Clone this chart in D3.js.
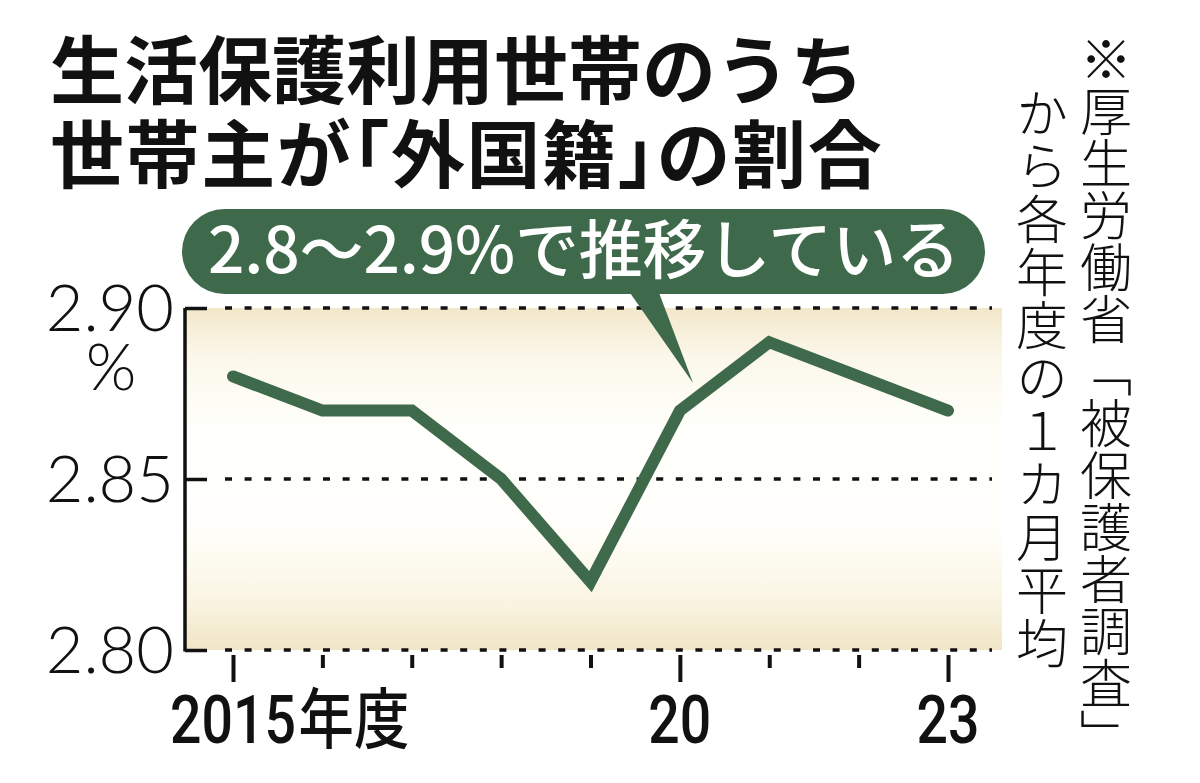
<!DOCTYPE html>
<html><head><meta charset="utf-8">
<script src="https://cdn.jsdelivr.net/npm/d3@7"></script>
<style>
html,body{margin:0;padding:0;background:#fff;}
svg{display:block;}
</style></head>
<body>
<svg id="chart" width="1200" height="783"></svg>
<script>
// ---- data ----
const years = [2015, 2016, 2017, 2018, 2019, 2020, 2021, 2022, 2023];
const shares = [2.88, 2.87, 2.87, 2.85, 2.82, 2.87, 2.89, 2.88, 2.87];
const yTicks = [2.80, 2.85, 2.90];
const yTickLabels = ["2.80", "2.85", "2.90"];
const majorYears = [2015, 2020, 2023];
const xTickLabels = ["2015", "20", "23"];
const titleLines = ["生活保護利用世帯のうち", "世帯主が「外国籍」の割合"];
const calloutText = "2.8〜2.9%で推移している";
const noteRight = "※厚生労働省「被保護者調査」";
const noteLeft = "から各年度の１カ月平均";

const GREEN = "#3e6a4b";
const svg = d3.select("#chart");
svg.append("rect").attr("width",1200).attr("height",783).attr("fill","#fff");

const x = d3.scaleLinear().domain([2015, 2023]).range([233, 948]);
const y = d3.scaleLinear().domain([2.80, 2.90]).range([650, 308]);

// gradient background
const defs = svg.append("defs");
const grad = defs.append("linearGradient").attr("id","bg").attr("x1",0).attr("y1",0).attr("x2",0).attr("y2",1);
[[0,"#f2e7c9"],[0.14,"#fbf7ea"],[0.35,"#fffffb"],[0.65,"#fffefa"],[0.85,"#faf5e3"],[1,"#f0e5c5"]]
  .forEach(([o,c])=>grad.append("stop").attr("offset",o).attr("stop-color",c));
svg.append("rect").attr("x",186).attr("y",y(2.90)).attr("width",1002-186).attr("height",y(2.80)-y(2.90)).attr("fill","url(#bg)");

// gridlines (dotted)
svg.append("g").selectAll("line").data(yTicks).join("line")
  .attr("x1",225).attr("x2",992).attr("y1",d=>y(d)).attr("y2",d=>y(d))
  .attr("stroke","#111").attr("stroke-width",3.5).attr("stroke-dasharray","7,12.6");

// y axis via d3
const yAxis = d3.axisRight(y).tickValues(yTicks).tickSize(22).tickFormat("");
const gy = svg.append("g").attr("transform","translate(185,0)").call(yAxis);
gy.select(".domain").attr("stroke","#111").attr("stroke-width",3.5).attr("d",`M0,${y(2.90)}V${y(2.80)+1.5}`);
gy.selectAll(".tick line").attr("stroke","#111").attr("stroke-width",3.5);

// y tick labels
const thinFont = "Lato, 'Noto Sans CJK JP', sans-serif";
svg.append("g").selectAll("text").data(yTicks).join("text")
  .attr("x",174).attr("y",d=>y(d)+23).attr("text-anchor","end")
  .attr("font-family",thinFont).attr("font-weight",300).attr("font-size",65).attr("fill","#111")
  .text((d,i)=>yTickLabels[i]);
svg.append("text").attr("x",111).attr("y",390).attr("text-anchor","middle")
  .attr("font-family",thinFont).attr("font-weight",300).attr("font-size",65).attr("fill","#111").text("%");

// x ticks via d3
const xAxis = d3.axisBottom(x).tickValues(years).tickSize(0).tickFormat("");
const gx = svg.append("g").attr("transform",`translate(0,${y(2.80)})`).call(xAxis);
gx.select(".domain").remove();
gx.selectAll(".tick line").attr("stroke","#111").attr("stroke-width",4)
  .attr("y1",5).attr("y2",d=>majorYears.includes(d)?32:18);

// x labels
majorYears.forEach((yr,i)=>{
  const g = svg.append("g").attr("transform",`translate(${x(yr)},743) scale(0.84,1)`);
  const t = g.append("text").attr("font-family","Roboto, 'Noto Sans CJK JP', sans-serif").attr("font-weight",500)
    .attr("font-size",66).attr("fill","#111");
  t.append("tspan").text(xTickLabels[i]);
  if (i===0) t.append("tspan").attr("font-family","'Noto Sans CJK JP'").attr("dx",3).text("年度");
  const w = t.node().getSubStringLength(0, xTickLabels[i].length);
  t.attr("x",-w/2);
});

// line
const line = d3.line().x((d,i)=>x(years[i])).y(d=>y(d));
svg.append("path").datum(shares).attr("d",line).attr("fill","none")
  .attr("stroke",GREEN).attr("stroke-width",12).attr("stroke-linecap","round").attr("stroke-linejoin","miter");

// callout bubble
const bub = svg.append("g");
bub.append("rect").attr("x",182).attr("y",209).attr("width",985-182).attr("height",85).attr("rx",42.5).attr("fill",GREEN);
bub.append("path").attr("d","M628,290L693,383L658,290Z").attr("fill",GREEN);
bub.append("text").attr("x",208).attr("y",273).attr("font-family","'Noto Sans CJK JP'").attr("font-weight",500)
  .attr("font-size",64).attr("fill","#fff").attr("textLength",752).text(calloutText);

// title
const tt = svg.append("g").attr("font-family","'Noto Sans CJK JP'").attr("font-weight",700).attr("font-size",74).attr("fill","#111");
tt.append("text").attr("x",50).attr("y",98).text(titleLines[0]);
const t2 = tt.append("text").attr("x",50).attr("y",182).attr("letter-spacing",1.6);
// brackets are half-width
titleLines[1].split(/([「」])/).filter(s=>s).forEach(s=>{
  const sp = t2.append("tspan").text(s);
  if (s==="「"||s==="」") sp.style("font-feature-settings","'halt'");
});

// vertical note
const note = svg.append("g").attr("font-family","'Noto Sans CJK JP'").attr("font-weight",300).attr("font-size",52).attr("fill","#111");
note.append("text").attr("x",1106).attr("y",33).style("writing-mode","vertical-rl").text(noteRight);
note.append("text").attr("x",1042).attr("y",87).attr("letter-spacing",1).style("writing-mode","vertical-rl").text(noteLeft);
</script>
</body></html>
